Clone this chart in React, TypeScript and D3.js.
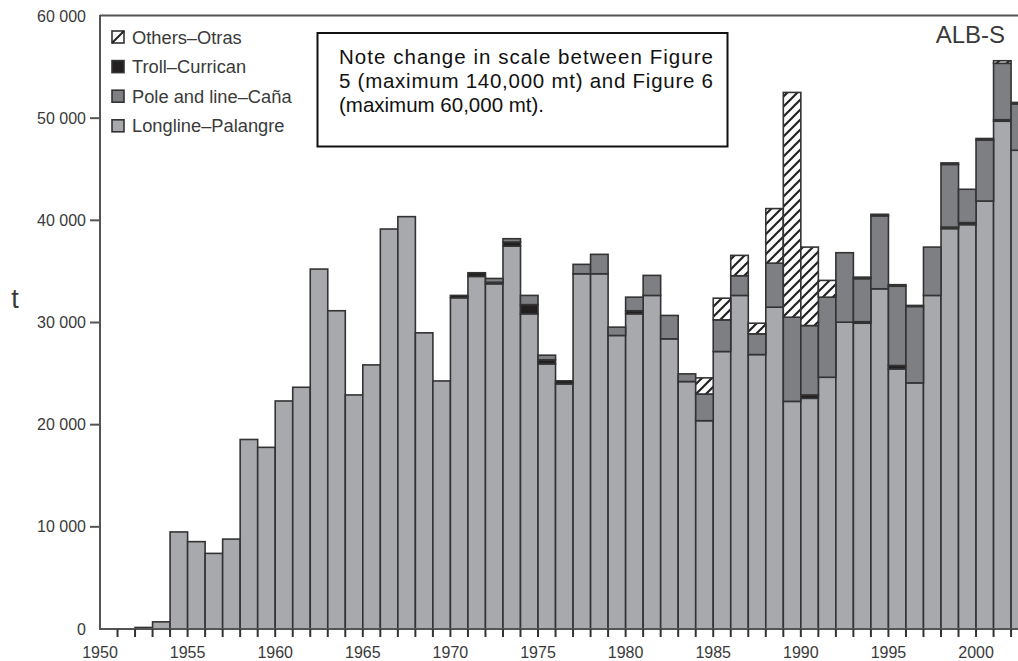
import React from 'react';
import * as d3 from 'd3';

const years = [
  1950, 1951, 1952, 1953, 1954, 1955, 1956, 1957, 1958, 1959,
  1960, 1961, 1962, 1963, 1964, 1965, 1966, 1967, 1968, 1969,
  1970, 1971, 1972, 1973, 1974, 1975, 1976, 1977, 1978, 1979,
  1980, 1981, 1982, 1983, 1984, 1985, 1986, 1987, 1988, 1989,
  1990, 1991, 1992, 1993, 1994, 1995, 1996, 1997, 1998, 1999,
  2000, 2001, 2002,
];

const longline = [
  0, 0, 150, 700, 9500, 8550, 7400, 8800, 18550, 17780,
  22320, 23660, 35230, 31150, 22910, 25850, 39150, 40360, 28990, 24280,
  32420, 34510, 33790, 37480, 30850, 25950, 23990, 34770, 34770, 28730,
  30850, 32650, 28400, 24220, 20390, 27160, 32650, 26860, 31500, 22280,
  22580, 24640, 30030, 29930, 33300, 25460, 24090, 32650, 39190, 39580,
  41890, 49700, 46860,
];

const troll = [
  0, 0, 0, 0, 0, 0, 0, 0, 0, 0,
  0, 0, 0, 0, 0, 0, 0, 0, 0, 0,
  230, 360, 150, 400, 900, 400, 300, 0, 0, 0,
  300, 0, 0, 0, 0, 0, 0, 0, 0, 0,
  330, 0, 0, 150, 0, 330, 0, 0, 150, 200,
  0, 150, 0,
];

const poleLine = [
  0, 0, 0, 0, 0, 0, 0, 0, 0, 0,
  0, 0, 0, 0, 0, 0, 0, 0, 0, 0,
  0, 0, 370, 320, 900, 450, 0, 920, 1900, 815,
  1330, 1960, 2290, 750, 2610, 3100, 1930, 2030, 4310, 8240,
  6790, 7840, 6800, 4210, 7140, 7760, 7480, 4730, 6130, 3260,
  5970, 5520, 4530,
];

const others = [
  0, 0, 0, 0, 0, 0, 0, 0, 0, 0,
  0, 0, 0, 0, 0, 0, 0, 0, 0, 0,
  0, 0, 0, 0, 0, 0, 0, 0, 0, 0,
  0, 0, 0, 0, 1580, 2120, 1990, 1040, 5340, 22000,
  7680, 1640, 0, 150, 150, 150, 100, 0, 150, 0,
  150, 250, 150,
];

const seriesKeys = ['longline', 'troll', 'pole', 'others'];
const legendLabels = ['Others–Otras', 'Troll–Currican', 'Pole and line–Caña', 'Longline–Palangre'];
const legendKeys = ['others', 'troll', 'pole', 'longline'];
const yTicks = [0, 10000, 20000, 30000, 40000, 50000, 60000];
const xLabelYears = [1950, 1955, 1960, 1965, 1970, 1975, 1980, 1985, 1990, 1995, 2000];
const noteLines = [
  'Note change in scale between Figure',
  '5 (maximum 140,000 mt) and Figure 6',
  '(maximum 60,000 mt).',
];
const stockLabel = 'ALB-S';
const yAxisLabel = 't';

const W = 1018;
const H = 661;
const FONT = 'Liberation Sans, Arial, Helvetica, sans-serif';

const fills: Record<string, string> = {
  longline: '#a8a9ad',
  troll: '#231f20',
  pole: '#7e7f83',
  others: 'url(#hatch)',
};

export default function App() {
  const x = d3.scaleLinear().domain([1950, 2003]).range([100, 1028.6]);
  const y = d3.scaleLinear().domain([0, 60000]).range([629, 16]);

  const rows = years.map((yr, i) => ({
    year: yr,
    longline: longline[i],
    troll: troll[i],
    pole: poleLine[i],
    others: others[i],
  }));
  const stacked = d3.stack<any>().keys(seriesKeys)(rows);

  const fmt = (v: number) => (v === 0 ? '0' : d3.format(',')(v).replace(/,/g, ' '));
  const axisColor = '#555';
  const textColor = '#3a3a3a';

  return (
    <svg
      width={W}
      height={H}
      style={{ position: 'absolute', left: 0, top: 0, background: '#fff' }}
      fontFamily={FONT}
    >
      <defs>
        <pattern id="hatch" patternUnits="userSpaceOnUse" width={10} height={10}>
          <rect width={10} height={10} fill="#fff" />
          <path d="M-2,2 l4,-4 M0,10 l10,-10 M8,12 l4,-4" stroke="#222" strokeWidth={2.2} />
        </pattern>
      </defs>
      <rect width={W} height={H} fill="#fff" />

      {/* bars */}
      {stacked.map((s) => (
        <g key={s.key}>
          {s.map((d, i) => {
            const v = d[1] - d[0];
            if (v <= 0) return null;
            const yr = years[i];
            return (
              <rect
                key={yr}
                x={x(yr)}
                width={x(yr + 1) - x(yr)}
                y={y(d[1])}
                height={y(d[0]) - y(d[1])}
                fill={fills[s.key]}
                stroke="#333"
                strokeWidth={1.6}
              />
            );
          })}
        </g>
      ))}

      {/* frame */}
      <line x1={100} x2={W} y1={15.5} y2={15.5} stroke={axisColor} strokeWidth={2} />
      <line x1={100} x2={100} y1={15} y2={630} stroke={axisColor} strokeWidth={2} />
      <line x1={99} x2={W} y1={629} y2={629} stroke={axisColor} strokeWidth={2} />

      {/* y ticks */}
      {yTicks.map((t) => (
        <g key={t}>
          {t > 0 && t < 60000 && (
            <line x1={90} x2={100} y1={y(t)} y2={y(t)} stroke={axisColor} strokeWidth={2} />
          )}
          <text x={86} y={y(t)} dy="0.35em" textAnchor="end" fontSize={16} fill={textColor}>
            {fmt(t)}
          </text>
        </g>
      ))}

      {/* x ticks */}
      {years.slice(1).map((yr) => (
        <line key={yr} x1={x(yr)} x2={x(yr)} y1={629} y2={637} stroke="#333" strokeWidth={2} />
      ))}
      {xLabelYears.map((yr) => (
        <text key={yr} x={x(yr)} y={657.5} textAnchor="middle" fontSize={16} fill={textColor}>
          {yr}
        </text>
      ))}

      {/* y label */}
      <text x={15} y={308} textAnchor="middle" fontSize={27} fill={textColor}>
        {yAxisLabel}
      </text>

      {/* legend */}
      {legendKeys.map((k, i) => {
        const cy = 37 + i * 29.6;
        return (
          <g key={k}>
            <rect x={112} y={cy - 6} width={12} height={12} fill={k === 'others' ? '#fff' : fills[k]} stroke="#333" strokeWidth={1.6} />
            {k === 'others' && (
              <line x1={112} y1={cy + 6} x2={124} y2={cy - 6} stroke="#222" strokeWidth={2} />
            )}
            <text x={132} y={cy + 6.5} fontSize={18.3} fill={textColor}>
              {legendLabels[i]}
            </text>
          </g>
        );
      })}

      {/* note box */}
      <rect x={317.5} y={33} width={410} height={113.5} fill="#fff" stroke="#111" strokeWidth={2} />
      {noteLines.map((ln, i) => (
        <text
          key={i}
          x={339}
          y={64 + i * 24}
          fontSize={20.5}
          fill="#111"
          textLength={i < 2 ? 374 : undefined}
          lengthAdjust="spacing"
        >
          {ln}
        </text>
      ))}

      {/* stock label */}
      <text x={1005} y={43} textAnchor="end" fontSize={24} fill={textColor}>
        {stockLabel}
      </text>
    </svg>
  );
}
